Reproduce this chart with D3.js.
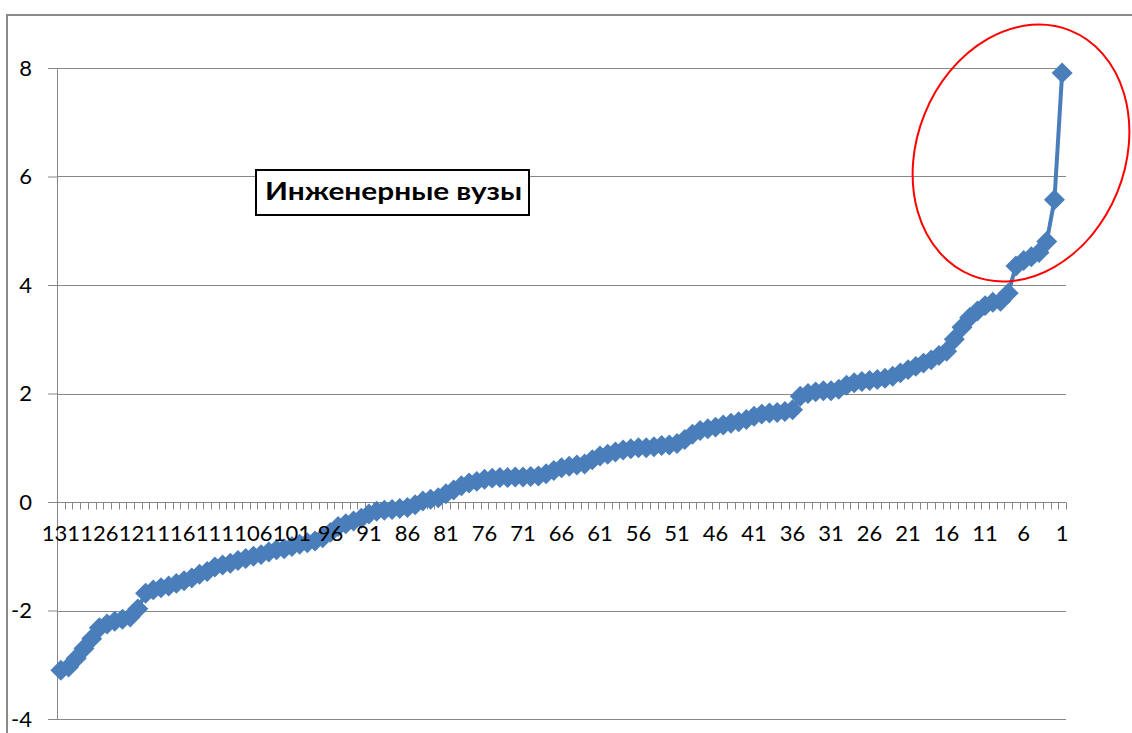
<!DOCTYPE html>
<html>
<head>
<meta charset="utf-8">
<script src="https://cdn.jsdelivr.net/npm/d3@7"></script>
<style>
  body { margin: 0; background: #fff; }
  svg { display: block; }
  text { font-family: Lato, "Open Sans", sans-serif; fill: #000; }
</style>
</head>
<body>
<div id="chart"></div>
<script>
// Data: rank (131 .. 1) and score for each rank
//==============================================
var ranks = d3.range(131, 0, -1);
var scores = [
  -3.10, -3.04, -2.88, -2.70, -2.52, -2.32, -2.25, -2.20, -2.16, -2.12,
  -1.97, -1.68, -1.62, -1.58, -1.55, -1.50, -1.45, -1.40, -1.33, -1.28,
  -1.20, -1.16, -1.13, -1.08, -1.04, -1.00, -0.97, -0.92, -0.88, -0.86,
  -0.82, -0.78, -0.75, -0.72, -0.66, -0.56, -0.45, -0.40, -0.35, -0.30,
  -0.22, -0.17, -0.15, -0.14, -0.12, -0.10, -0.05, 0.02, 0.05, 0.08,
  0.15, 0.22, 0.30, 0.35, 0.38, 0.42, 0.44, 0.45, 0.45, 0.46,
  0.46, 0.47, 0.48, 0.52, 0.58, 0.63, 0.66, 0.68, 0.70, 0.78,
  0.85, 0.88, 0.92, 0.96, 0.98, 1.00, 1.00, 1.02, 1.04, 1.05,
  1.08, 1.15, 1.25, 1.32, 1.35, 1.38, 1.42, 1.45, 1.48, 1.52,
  1.58, 1.62, 1.64, 1.65, 1.67, 1.70, 1.95, 2.00, 2.03, 2.05,
  2.05, 2.08, 2.15, 2.20, 2.22, 2.24, 2.26, 2.28, 2.32, 2.38,
  2.44, 2.50, 2.56, 2.62, 2.70, 2.78, 3.00, 3.22, 3.40, 3.52,
  3.62, 3.68, 3.70, 3.85, 4.35, 4.45, 4.52, 4.60, 4.80, 5.57,
  7.91
];
var yTicks = [-4, -2, 0, 2, 4, 6, 8];
var xTickLabels = [131, 126, 121, 116, 111, 106, 101, 96, 91, 86, 81, 76, 71, 66,
  61, 56, 51, 46, 41, 36, 31, 26, 21, 16, 11, 6, 1];
var title = "Инженерные вузы";

var data = ranks.map(function(r, i) { return { rank: r, score: scores[i] }; });

// Set up the chart
//=================================
var svgWidth = 1132;
var svgHeight = 733;
var gridColor = "#878787";
var lineColor = "#4a7ebb";

var plot = { left: 57, right: 1066, top: 68, bottom: 719 };

var svg = d3.select("#chart")
  .append("svg")
  .attr("width", svgWidth)
  .attr("height", svgHeight);

svg.append("rect")
  .attr("width", svgWidth)
  .attr("height", svgHeight)
  .attr("fill", "#fff");

// chart area frame (only top and left visible)
svg.append("path")
  .attr("d", "M7,740 V15 H1140")
  .attr("fill", "none")
  .attr("stroke", "#8a8a8a")
  .attr("stroke-width", 2);

var xScale = d3.scaleBand()
  .domain(ranks)
  .range([plot.left, plot.right])
  .padding(0);

var yScale = d3.scaleLinear()
  .domain([-4, 8])
  .range([plot.bottom, plot.top]);

// gridlines + y axis
//=================================
var yAxis = svg.append("g")
  .attr("transform", "translate(" + plot.left + ",0)")
  .call(d3.axisLeft(yScale)
    .tickValues(yTicks)
    .tickSize(9)
    .tickPadding(16)
    .tickFormat(function(d) { return String(d); }));

yAxis.select(".domain").attr("stroke", gridColor);
yAxis.selectAll(".tick line").attr("stroke", gridColor);
yAxis.selectAll(".tick text")
  .attr("font-size", "22px")
  .attr("font-family", "Lato, 'Open Sans', sans-serif")
  .attr("fill", "#000");

svg.append("g")
  .selectAll("line")
  .data(yTicks)
  .enter()
  .append("line")
  .attr("x1", plot.left)
  .attr("x2", plot.right)
  .attr("y1", function(d) { return Math.round(yScale(d)) + 0.5; })
  .attr("y2", function(d) { return Math.round(yScale(d)) + 0.5; })
  .attr("stroke", gridColor)
  .attr("stroke-width", 1);

// x axis on the zero line
//=================================
var zeroY = Math.round(yScale(0)) + 0.5;
var xAxisG = svg.append("g")
  .attr("transform", "translate(0," + zeroY + ")");

xAxisG.selectAll("line.tick-mark")
  .data(ranks.concat(["end"]))
  .enter()
  .append("line")
  .attr("class", "tick-mark")
  .attr("x1", function(d) { return Math.round(d === "end" ? plot.right : xScale(d)) + 0.5; })
  .attr("x2", function(d) { return Math.round(d === "end" ? plot.right : xScale(d)) + 0.5; })
  .attr("y1", 0)
  .attr("y2", 7)
  .attr("stroke", gridColor);

xAxisG.append("line")
  .attr("x1", plot.left)
  .attr("x2", plot.right)
  .attr("stroke", gridColor);

// line + diamond markers
//=================================
var cx = function(d) { return xScale(d.rank) + xScale.bandwidth() / 2; };

svg.append("path")
  .datum(data)
  .attr("fill", "none")
  .attr("stroke", lineColor)
  .attr("stroke-width", 4)
  .attr("stroke-linejoin", "round")
  .attr("d", d3.line().x(cx).y(function(d) { return yScale(d.score); }));

svg.append("g")
  .selectAll("path")
  .data(data)
  .enter()
  .append("path")
  .attr("d", d3.symbol().type(d3.symbolSquare).size(220))
  .attr("transform", function(d) {
    return "translate(" + cx(d) + "," + yScale(d.score) + ") rotate(45)";
  })
  .attr("fill", lineColor);

// category labels drawn over the series (as in the original)
var bottomAxis = d3.axisBottom(xScale)
  .tickValues(xTickLabels)
  .tickSize(0)
  .tickPadding(23);

var xLabels = svg.append("g")
  .attr("transform", "translate(0," + zeroY + ")")
  .call(bottomAxis);
xLabels.select(".domain").remove();
xLabels.selectAll(".tick text")
  .attr("font-size", "22px")
  .attr("font-family", "Lato, 'Open Sans', sans-serif")
  .attr("fill", "#000");

// title box
//=================================
var titleG = svg.append("g");
titleG.append("rect")
  .attr("x", 256)
  .attr("y", 170)
  .attr("width", 273)
  .attr("height", 45)
  .attr("fill", "#fff")
  .attr("stroke", "#000")
  .attr("stroke-width", 2);

titleG.append("text")
  .attr("x", 265)
  .attr("y", 200)
  .attr("font-size", "25px")
  .attr("font-weight", "bold")
  .attr("textLength", 257)
  .attr("lengthAdjust", "spacingAndGlyphs")
  .text(title);

// red highlight ellipse
//=================================
svg.append("ellipse")
  .attr("cx", 0)
  .attr("cy", 0)
  .attr("rx", 104)
  .attr("ry", 132)
  .attr("transform", "translate(1021,153) rotate(22)")
  .attr("fill", "none")
  .attr("stroke", "#ff0000")
  .attr("stroke-width", 2);
</script>
</body>
</html>
